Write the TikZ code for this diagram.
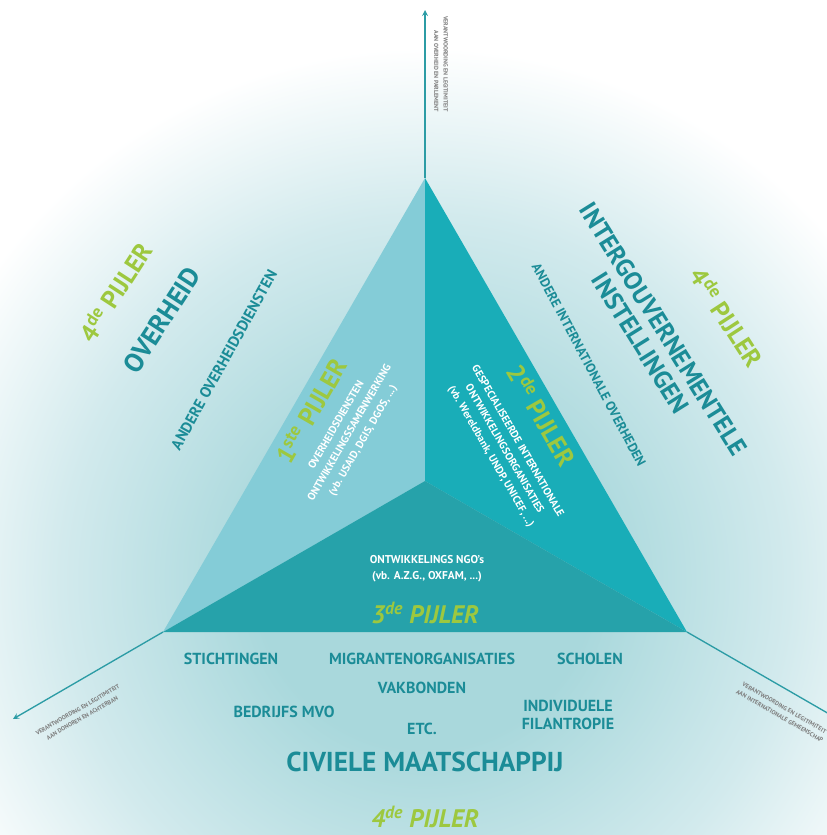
\documentclass[tikz,border=0pt]{standalone}
\usepackage{fontspec}
\setmainfont{PT Sans}
\definecolor{face1}{HTML}{84CCD7}
\definecolor{face2}{HTML}{19ADB8}
\definecolor{face3}{HTML}{26A2AA}
\definecolor{tealtxt}{HTML}{1B8C97}
\definecolor{pijlgreen}{HTML}{9DC83F}
\definecolor{axisgray}{HTML}{7D7D7D}
\definecolor{axisteal}{HTML}{2C9CA5}
\definecolor{glowin}{HTML}{A9D8DC}
\definecolor{glowmid}{HTML}{D2EAED}
\pgfdeclareradialshading{glow}{\pgfpoint{0bp}{0bp}}{color(0bp)=(glowin); color(6bp)=(glowin); color(13bp)=(glowmid); color(19bp)=(white); color(25bp)=(white); color(50bp)=(white)}
\begin{document}
\begin{tikzpicture}[x=0.75pt, y=-0.75pt,
        pijler/.style={text=pijlgreen, font=\bfseries\fontsize{19}{21}\selectfont},
        schuin/.style={text=pijlgreen, font=\bfseries\itshape\fontsize{19}{21}\selectfont},
        wit/.style={text=white, align=center, font=\bfseries\fontsize{8}{11.5}\selectfont},
        groot/.style={text=tealtxt, align=center, font=\bfseries\fontsize{19}{20}\selectfont},
        klein/.style={text=tealtxt, font=\bfseries\fontsize{10}{12}\selectfont},
        veld/.style={text=tealtxt, align=center, font=\bfseries\fontsize{12}{14}\selectfont},
        as/.style={draw=axisteal, line width=1pt, ->, >=stealth},
        aslabel/.style={text=axisgray, align=center, font=\bfseries\fontsize{4.5}{7}\selectfont}]
        \useasboundingbox (0,0) rectangle (826,835);
        \shade[shading=glow] (425,580) circle (700);

        \coordinate (top) at (425,178);
        \coordinate (left) at (163,632);
        \coordinate (right) at (687,632);
        \coordinate (c) at (425,481);
        \coordinate (topend) at (425,10);
        \coordinate (leftend) at (13,719);
        \coordinate (rightend) at (850,726);

        \fill[face1] (top) -- (c) -- (left) -- cycle;
        \fill[face2] (top) -- (right) -- (c) -- cycle;
        \fill[face3] (left) -- (c) -- (right) -- cycle;
        \draw[as] (top) -- (topend);
        \draw[as] (left) -- (leftend);
        \draw[as] (right) -- (rightend);

        \node[aslabel, rotate=-90, align=right] (toplabel) at (441,64) {VERANTWOORDING EN LEGITIMITEIT\\AAN OVERHEID EN PARLEMENT};
        \node[aslabel, rotate=30] (leftlabel) at (80,714) {VERANTWOORDING EN LEGITIMITEIT\\AAN DONOREN EN ACHTERBAN};
        \node[aslabel, rotate=-30] (rightlabel) at (782,712) {VERANTWOORDING EN LEGITIMITEIT\\AAN INTERNATIONALE GEMEENSCHAP};

        \node[pijler, rotate=60] (pijler1) at (311,411) {1\textsuperscript{ste} PIJLER};
        \node[wit, rotate=60] (tekst1) at (350,433) {OVERHEIDSDIENSTEN\\ONTWIKKELINGSSAMENWERKING\\(vb. USAID, DGIS, DGOS, ...)};
        \node[pijler, rotate=-60] (pijler2) at (542,415) {2\textsuperscript{de} PIJLER};
        \node[wit, rotate=-60] (tekst2) at (504,449) {GESPECIALISEERDE INTERNATIONALE\\ONTWIKKELINGSORGANISATIES\\(vb. Wereldbank, UNDP, UNICEF, ...)};
        \node[wit, font=\bfseries\fontsize{8.5}{12}\selectfont] (tekst3) at (427,569) {ONTWIKKELINGS NGO's\\(vb. A.Z.G., OXFAM, ...)};
        \node[schuin] (pijler3) at (425,613) {3\textsuperscript{de} PIJLER};

        \node[pijler, rotate=57] (vierlinks) at (115,292) {4\textsuperscript{de} PIJLER};
        \node[groot, font=\bfseries\fontsize{20}{22}\selectfont, rotate=57] (overheid) at (162,320) {OVERHEID};
        \node[klein, font=\bfseries\fontsize{11.5}{13}\selectfont, rotate=61] (andoverheid) at (224,360) {ANDERE OVERHEIDSDIENSTEN};
        \node[groot, rotate=-58] (intergov) at (652,336) {INTERGOUVERNEMENTELE\\INSTELLINGEN};
        \node[klein, rotate=-62] (andintl) at (589,365) {ANDERE INTERNATIONALE OVERHEDEN};
        \node[pijler, rotate=-57] (vierrechts) at (727,317) {4\textsuperscript{de} PIJLER};

        \node[veld] (sticht) at (231,659) {STICHTINGEN};
        \node[veld] (migranten) at (422,659) {MIGRANTENORGANISATIES};
        \node[veld] (scholen) at (590,659) {SCHOLEN};
        \node[veld] (vakbonden) at (422,688) {VAKBONDEN};
        \node[veld] (bedrijfs) at (284,712) {BEDRIJFS MVO};
        \node[veld] (etc) at (422,729) {ETC.};
        \node[veld] (filantropie) at (568,715) {INDIVIDUELE\\FILANTROPIE};
        \node[groot, font=\bfseries\fontsize{20.5}{22}\selectfont] (civiel) at (425,762) {CIVIELE MAATSCHAPPIJ};
        \node[schuin, inner sep=1pt] (vieronder) at (425,817) {4\textsuperscript{de} PIJLER};
    \end{tikzpicture}
\end{document}
